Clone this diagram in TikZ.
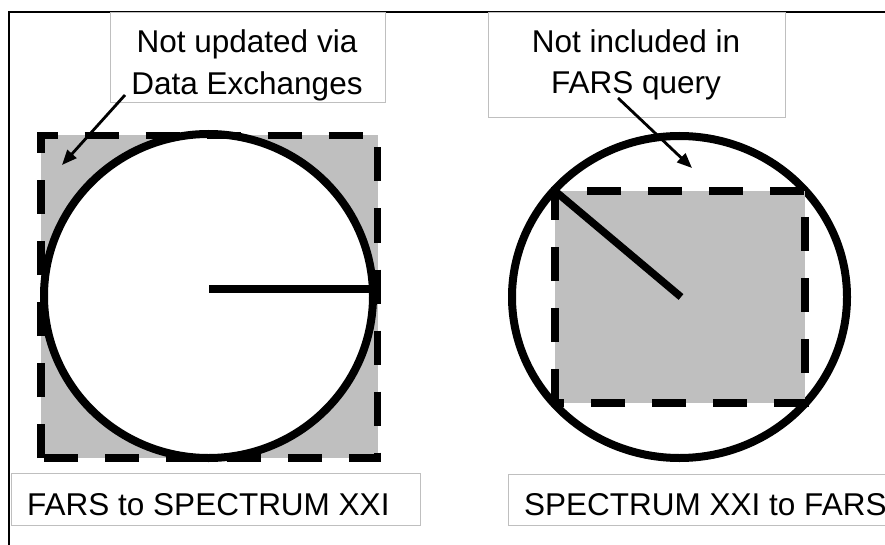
\documentclass[tikz,border=0pt]{standalone}
\usepackage{fontspec}
\setmainfont{Liberation Sans}
\usetikzlibrary{arrows.meta}
\tikzset{
  frameline/.style={line width=1.6pt, draw=black},
  labelbox/.style={draw=black!25, line width=0.9pt, fill=white, inner sep=0pt, rectangle},
  lbl/.style={font=\fontsize{31.5}{42}\selectfont, inner sep=0pt, text=black},
  region/.style={fill=black!25},
  dashedge/.style={draw=black, line width=7.5pt, dash pattern=on 34pt off 27pt, line join=miter},
  ring/.style={draw=black, line width=8pt},
  radius/.style={draw=black, line width=7.5pt},
  pointer/.style={draw=black, line width=2.8pt, -{Triangle[length=15pt,width=12pt]}}
}
\begin{document}
\begin{tikzpicture}[x=1pt,y=-1pt]
\useasboundingbox (0,0) rectangle (885,545);
\clip (0,0) rectangle (885,545);
\fill[white] (0,0) rectangle (885,545);

% outer frame (top and left only)
\draw[frameline] (9,545) -- (9,12) -- (890,12);

% ---------- left diagram ----------
\fill[region] (41,135.5) rectangle (377.5,458);
\draw[ring, fill=white] (208.5,296) ellipse [x radius=164.5, y radius=162];
\draw[dashedge] (41,458) -- (41,135.5) -- (377.5,135.5) -- (377.5,458) -- cycle;
\coordinate (lc) at (209,289);
\coordinate (le) at (374,289);
\draw[radius] (lc) -- (le);

% ---------- right diagram ----------
\draw[ring] (679.5,297) ellipse [x radius=167.5, y radius=161];
\fill[region] (555,191) rectangle (805,403);
\draw[dashedge] (555,403) -- (555,191) -- (805,191) -- (805,403) -- cycle;
\coordinate (rc) at (555,191);
\coordinate (rx) at (681,297);
\draw[radius] (rc) -- (rx);

% ---------- label boxes ----------
\node[labelbox, minimum width=275pt, minimum height=90pt] (boxA) at (247.5,57) {};
\node[lbl, anchor=base] (tA1) at (247,53) {Not updated via};
\node[lbl, anchor=base] (tA2) at (247,95) {Data Exchanges};

\node[labelbox, minimum width=297pt, minimum height=105pt] (boxB) at (636.5,64.5) {};
\node[lbl, anchor=base] (tB1) at (636,53) {Not included in};
\node[lbl, anchor=base] (tB2) at (636,94) {FARS query};

\node[labelbox, minimum width=409pt, minimum height=52pt] (boxC) at (215.5,499) {};
\node[lbl, anchor=base west] (tC) at (27,515) {FARS to SPECTRUM XXI};

\node[labelbox, minimum width=400pt, minimum height=51pt] (boxD) at (708,499.5) {};
\node[lbl, anchor=base west] (tD) at (524,515) {SPECTRUM XXI to FARS};

% ---------- pointers ----------
\coordinate (pA0) at (125,95);
\coordinate (pA1) at (62,165);
\draw[pointer] (pA0) -- (pA1);
\coordinate (pB0) at (618,98);
\coordinate (pB1) at (692,168);
\draw[pointer] (pB0) -- (pB1);
\end{tikzpicture}
\end{document}
